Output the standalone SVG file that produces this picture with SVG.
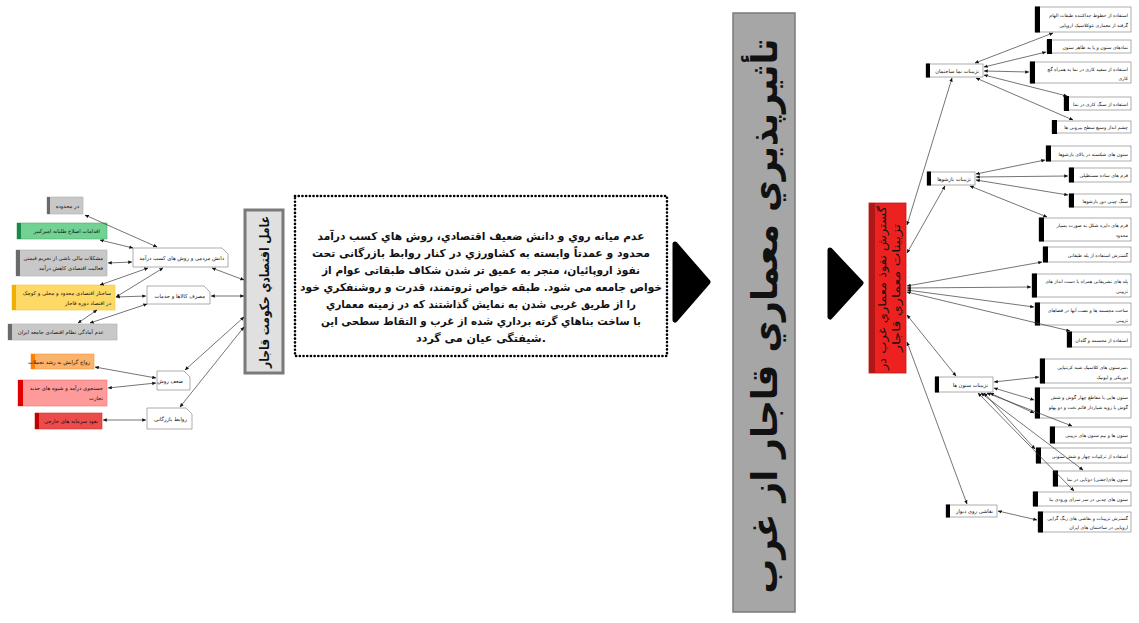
<svg xmlns="http://www.w3.org/2000/svg" width="1139" height="623" viewBox="0 0 1139 623">
<defs>
<marker id="a" viewBox="0 0 6 6" refX="5.6" refY="3" markerWidth="4" markerHeight="4" orient="auto-start-reverse" markerUnits="userSpaceOnUse"><path d="M0,0.4L6,3L0,5.6z" fill="#111"/></marker>
<style>
text{font-family:"DejaVu Sans","Noto Sans",sans-serif;fill:#111}
.c line{stroke:#3a3a3a;stroke-width:0.7;marker-start:url(#a);marker-end:url(#a)}
.t{font-size:4.7px;text-anchor:end}
.h{font-size:5.2px;text-anchor:end}
.s{font-size:5.3px;text-anchor:end}
.w{fill:#fff;stroke:#8a8a8a;stroke-width:0.7}
.k{fill:#000}
.p{font-size:11px;font-weight:bold;text-anchor:middle}
.tri{fill:#000;stroke:#000;stroke-width:5;stroke-linejoin:round}
</style>
</defs>
<rect width="1139" height="623" fill="#fff"/>

<!-- left economic map nodes -->
<g id="L1"><rect x="47" y="197" width="36" height="17" fill="#c8c8c8" stroke="#b0b0b0" stroke-width="0.6"/><rect x="47" y="197" width="3" height="17" fill="#6a6a6a"/><text class="s" x="79" y="207.5">در محدوده</text></g>
<g id="L2"><rect x="17" y="223" width="90" height="16" fill="#72d293" stroke="#4fb06f" stroke-width="0.6"/><rect x="17" y="223" width="4" height="16" fill="#1c8a46"/><text class="s" x="100" y="233">اقدامات اصلاح طلبانه امیرکبیر</text></g>
<g id="L3"><rect x="16" y="250" width="91" height="26" fill="#c8c8c8" stroke="#b0b0b0" stroke-width="0.6"/><rect x="16" y="250" width="4" height="26" fill="#6a6a6a"/><text class="s" x="103" y="260">مشکلات مالی ناشی از تحریم قیمتی</text><text class="s" x="103" y="270">فعالیت اقتصادی کاهش درآمد</text></g>
<g id="L4"><rect x="12" y="285" width="103" height="25" fill="#ffd966" stroke="#f2c640" stroke-width="0.6"/><rect x="12" y="285" width="4" height="25" fill="#f0b000"/><text class="s" x="111" y="295">ساختار اقتصادی محدود و محلی و کوچک</text><text class="s" x="111" y="305">در اقتصاد دوره قاجار</text></g>
<g id="L5"><rect x="8" y="324" width="109" height="16" fill="#c8c8c8" stroke="#b0b0b0" stroke-width="0.6"/><rect x="8" y="324" width="4" height="16" fill="#6a6a6a"/><text class="s" x="104" y="334">عدم آمادگی نظام اقتصادی جامعه ایران</text></g>
<g id="L6"><rect x="31" y="354" width="63" height="15" fill="#fbb26a" stroke="#f59a40" stroke-width="0.6"/><rect x="31" y="354" width="4" height="15" fill="#ff7f00"/><text class="s" x="90" y="363.5">رواج گرایش به رشد تجملات</text></g>
<g id="L7"><rect x="18" y="380" width="89" height="26" fill="#ff9a9a" stroke="#f07070" stroke-width="0.6"/><rect x="18" y="380" width="5" height="26" fill="#e00000"/><text class="s" x="103" y="390">جستجوی درآمد و شیوه های جدید</text><text class="s" x="103" y="400">تجارت</text></g>
<g id="L8"><rect x="35" y="413" width="67" height="16" fill="#ec4b4b" stroke="#d83030" stroke-width="0.6"/><rect x="35" y="413" width="4" height="16" fill="#c00000"/><text class="s" x="98" y="423">نفوذ سرمایه های خارجی</text></g>
<g id="C1"><path class="w" d="M133,248H222L228,254V267H133Z"/><text class="s" x="224" y="260">دانش مردمی و روش های کسب درآمد</text></g>
<g id="C2"><path class="w" d="M147,286H204L210,292V304H147Z"/><text class="s" x="205" y="297.5">مصرف کالاها و خدمات</text></g>
<g id="C3"><path class="w" d="M157,371H184L190,377V390H157Z"/><text class="s" x="183" y="383">ضعف روش</text></g>
<g id="C4"><path class="w" d="M147,408H186L192,414V429H147Z"/><text class="s" x="187" y="421">روابط بازرگانی</text></g>

<g id="econ"><rect x="245" y="210" width="38" height="163" fill="#e0e0e0" stroke="#7a7a7a" stroke-width="3"/><text transform="translate(264,292) rotate(-90)" text-anchor="middle" dominant-baseline="central" font-size="13" font-weight="bold" textLength="152" lengthAdjust="spacingAndGlyphs">عامل اقتصادي حکومت قاجار</text></g>

<g id="para"><rect x="295" y="196" width="372" height="160" fill="#fff" stroke="#000" stroke-width="2.6" stroke-dasharray="0.1 3.6" stroke-linecap="round"/>
<text class="p" x="481" y="240" textLength="327" lengthAdjust="spacingAndGlyphs">عدم میانه روي و دانش ضعیف اقتصادي، روش هاي کسب درآمد</text>
<text class="p" x="481" y="257" textLength="338" lengthAdjust="spacingAndGlyphs">محدود و عمدتاً وابسته به کشاورزي در کنار روابط بازرگانی تحت</text>
<text class="p" x="481" y="274" textLength="318" lengthAdjust="spacingAndGlyphs">نفوذ اروپائیان، منجر به عمیق تر شدن شکاف طبقاتی عوام از</text>
<text class="p" x="481" y="291" textLength="362" lengthAdjust="spacingAndGlyphs">خواص جامعه می شود. طبقه خواص ثروتمند، قدرت و روشنفکري خود</text>
<text class="p" x="481" y="308" textLength="310" lengthAdjust="spacingAndGlyphs">را از طریق غربی شدن به نمایش گذاشتند که در زمینه معماري</text>
<text class="p" x="481" y="325" textLength="320" lengthAdjust="spacingAndGlyphs">با ساخت بناهاي گرته برداري شده از غرب و التقاط سطحی این</text>
<text class="p" x="481" y="342" textLength="130" lengthAdjust="spacingAndGlyphs">شیفتگی عیان می گردد.</text></g>

<g id="arrow1"><path class="tri" d="M675,244L708,282L675,320Z"/></g>

<g id="title"><rect x="733" y="13" width="62" height="599" fill="#a6a6a6" stroke="#7a7a7a" stroke-width="1.5"/><text transform="translate(764,316) rotate(-90)" text-anchor="middle" dominant-baseline="central" font-size="36" font-weight="bold" textLength="555" lengthAdjust="spacingAndGlyphs">تأثيرپذيري معماري قاجار از غرب</text></g>

<g id="arrow2"><path class="tri" d="M830,250L861,283L830,317Z"/></g>

<g id="root"><rect x="869" y="203" width="37" height="170" fill="#ee2121" stroke="#c01818" stroke-width="0.8"/><rect x="869" y="203" width="6" height="170" fill="#b01818"/><text transform="translate(882,288) rotate(-90)" text-anchor="middle" dominant-baseline="central" font-size="11" fill="#200" textLength="164" lengthAdjust="spacingAndGlyphs">گسترش نفوذ معماري غرب در</text><text transform="translate(896,288) rotate(-90)" text-anchor="middle" dominant-baseline="central" font-size="11" fill="#200" textLength="128" lengthAdjust="spacingAndGlyphs">تزيينات معماري قاجار</text></g>

<!-- right hubs -->
<g id="H1"><rect class="w" x="926" y="64" width="57" height="13"/><rect class="k" x="926" y="63.5" width="4" height="14"/><text class="h" x="979" y="72.5">تزیینات نما ساختمان</text></g>
<g id="H2"><rect class="w" x="927" y="172" width="48" height="13"/><rect class="k" x="927" y="171.5" width="4" height="14"/><text class="h" x="971" y="180.5">تزیینات بازشوها</text></g>
<g id="H3"><rect class="w" x="935" y="377" width="58" height="15"/><rect class="k" x="935" y="376.5" width="4" height="16"/><text class="h" x="988" y="386.5">تزیینات ستون ها</text></g>
<g id="H4"><rect class="w" x="946" y="505" width="51" height="12"/><rect class="k" x="946" y="504.5" width="4" height="13"/><text class="h" x="993" y="513">نقاشی روی دیوار</text></g>

<!-- right leaves -->
<g id="N1"><rect class="w" x="1035" y="7" width="96" height="25"/><rect class="k" x="1035" y="6.5" width="5" height="26"/><text class="t" x="1128" y="17">استفاده از خطوط جداکننده طبقات الهام</text><text class="t" x="1128" y="27">گرفته از معماری نئوکلاسیک اروپایی</text></g>
<g id="N2"><rect class="w" x="1047" y="40" width="84" height="13"/><rect class="k" x="1047" y="39" width="5" height="15"/><text class="t" x="1128" y="48.5">نمادهای ستون و یا به ظاهر ستون</text></g>
<g id="N3"><rect class="w" x="1030" y="62" width="101" height="21"/><rect class="k" x="1030" y="61.5" width="5" height="22"/><text class="t" x="1128" y="70.5">استفاده از سفید کاری در نما به همراه گچ</text><text class="t" x="1128" y="79.5">کاری</text></g>
<g id="N4"><rect class="w" x="1064" y="97" width="67" height="13"/><rect class="k" x="1064" y="96" width="5" height="15"/><text class="t" x="1128" y="105.5">استفاده از سنگ کاری در نما</text></g>
<g id="N5"><rect class="w" x="1052" y="121" width="79" height="12"/><rect class="k" x="1052" y="120" width="5" height="14"/><text class="t" x="1128" y="129">چشم انداز وسیع سطح بیرونی ها</text></g>
<g id="N6"><rect class="w" x="1046" y="146" width="85" height="15"/><rect class="k" x="1046" y="145.5" width="5" height="16"/><text class="t" x="1128" y="155.5">ستون های شکسته در بالای بازشوها</text></g>
<g id="N7"><rect class="w" x="1069" y="168" width="62" height="14"/><rect class="k" x="1069" y="167.5" width="5" height="15"/><text class="t" x="1128" y="177">فرم های ساده مستطیلی</text></g>
<g id="N8"><rect class="w" x="1069" y="194" width="62" height="13"/><rect class="k" x="1069" y="193.5" width="5" height="14"/><text class="t" x="1128" y="202.5">سنگ چینی دور بازشوها</text></g>
<g id="N9"><rect class="w" x="1039" y="218" width="92" height="23"/><rect class="k" x="1039" y="217.5" width="5" height="24"/><text class="t" x="1128" y="227">فرم های دایره شکل به صورت بسیار</text><text class="t" x="1128" y="236.5">محدود</text></g>
<g id="N10"><rect class="w" x="1043" y="247" width="88" height="15"/><rect class="k" x="1043" y="246.5" width="5" height="16"/><text class="t" x="1128" y="256.5">گسترش استفاده از پله طبقاتی</text></g>
<g id="N11"><rect class="w" x="1032" y="274" width="99" height="23"/><rect class="k" x="1032" y="273.5" width="5" height="24"/><text class="t" x="1128" y="283">پله های تشریفاتی همراه با دست انداز های</text><text class="t" x="1128" y="292.5">تزیینی</text></g>
<g id="N12"><rect class="w" x="1035" y="303" width="96" height="22"/><rect class="k" x="1035" y="302.5" width="5" height="23"/><text class="t" x="1128" y="312">ساخت مجسمه ها و نصب آنها در فضاهای</text><text class="t" x="1128" y="321.5">تزیینی</text></g>
<g id="N13"><rect class="w" x="1067" y="332" width="64" height="15"/><rect class="k" x="1067" y="331.5" width="5" height="16"/><text class="t" x="1128" y="341.5">استفاده از مجسمه و گلدان</text></g>
<g id="N14"><rect class="w" x="1040" y="359" width="91" height="24"/><rect class="k" x="1040" y="358.5" width="5" height="25"/><text class="t" x="1128" y="368.5">سرستون های کلاسیک شبه کرنتیایی،</text><text class="t" x="1128" y="378.5">دوریکی و ایونیک</text></g>
<g id="N15"><rect class="w" x="1035" y="388" width="96" height="30"/><rect class="k" x="1035" y="387.5" width="5" height="31"/><text class="t" x="1128" y="399">ستون هایی با مقاطع چهار گوش و شش</text><text class="t" x="1128" y="409">گوش با رویه شیاردار قائم تخت و دو پهلو</text></g>
<g id="N16"><rect class="w" x="1050" y="427" width="81" height="16"/><rect class="k" x="1050" y="426.5" width="5" height="17"/><text class="t" x="1128" y="437">ستون ها و نیم ستون های تزیینی</text></g>
<g id="N17"><rect class="w" x="1036" y="448" width="95" height="15"/><rect class="k" x="1036" y="447.5" width="5" height="16"/><text class="t" x="1128" y="457.5">استفاده از ترکیبات چهار و شش ستونی</text></g>
<g id="N18"><rect class="w" x="1053" y="471" width="78" height="15"/><rect class="k" x="1053" y="470.5" width="5" height="16"/><text class="t" x="1128" y="480.5">ستون های(جفتی) دوتایی در نما</text></g>
<g id="N19"><rect class="w" x="1033" y="492" width="98" height="14"/><rect class="k" x="1033" y="491.5" width="5" height="15"/><text class="t" x="1128" y="501">ستون های چدنی در سر سرای ورودی بنا</text></g>
<g id="N20"><rect class="w" x="1038" y="512" width="93" height="20"/><rect class="k" x="1038" y="511.5" width="5" height="21"/><text class="t" x="1128" y="520">گسترش تزیینات و نقاشی های رنگ گرایی</text><text class="t" x="1128" y="529">اروپایی در ساختمان های ایران</text></g>

<g id="connectors" class="c">
<line x1="85" y1="215" x2="157" y2="247"/>
<line x1="100" y1="240" x2="133" y2="248"/>
<line x1="108" y1="263" x2="132" y2="262"/>
<line x1="100" y1="285" x2="148" y2="268"/>
<line x1="116" y1="297" x2="163" y2="268"/>
<line x1="116" y1="297" x2="146" y2="296"/>
<line x1="97" y1="310" x2="78" y2="323"/>
<line x1="90" y1="323" x2="147" y2="304"/>
<line x1="212" y1="268" x2="244" y2="280"/>
<line x1="211" y1="296" x2="244" y2="296"/>
<line x1="244" y1="317" x2="185" y2="370"/>
<line x1="244" y1="327" x2="180" y2="407"/>
<line x1="95" y1="367" x2="156" y2="378"/>
<line x1="108" y1="388" x2="156" y2="383"/>
<line x1="103" y1="420" x2="146" y2="420"/>

<line x1="907" y1="225" x2="952" y2="78"/>
<line x1="907" y1="253" x2="945" y2="186"/>
<line x1="907" y1="286" x2="1042" y2="262"/>
<line x1="907" y1="288" x2="1031" y2="287"/>
<line x1="907" y1="290" x2="1034" y2="307"/>
<line x1="907" y1="292" x2="1070" y2="331"/>
<line x1="907" y1="315" x2="956" y2="376"/>
<line x1="907" y1="342" x2="967" y2="504"/>

<line x1="975" y1="63" x2="1053" y2="33"/>
<line x1="984" y1="67" x2="1046" y2="52"/>
<line x1="984" y1="71" x2="1029" y2="72"/>
<line x1="984" y1="75" x2="1067" y2="96"/>
<line x1="976" y1="78" x2="1073" y2="120"/>

<line x1="976" y1="174" x2="1045" y2="160"/>
<line x1="976" y1="177" x2="1068" y2="176"/>
<line x1="976" y1="180" x2="1068" y2="195"/>
<line x1="970" y1="186" x2="1047" y2="217"/>

<line x1="994" y1="382" x2="1039" y2="377"/>
<line x1="994" y1="388" x2="1034" y2="400"/>
<line x1="990" y1="393" x2="1034" y2="413"/>
<line x1="987" y1="393" x2="1072" y2="426"/>
<line x1="984" y1="393" x2="1035" y2="449"/>
<line x1="981" y1="393" x2="1083" y2="470"/>
<line x1="978" y1="393" x2="1074" y2="491"/>

<line x1="998" y1="511" x2="1037" y2="520"/>
</g>
</svg>
